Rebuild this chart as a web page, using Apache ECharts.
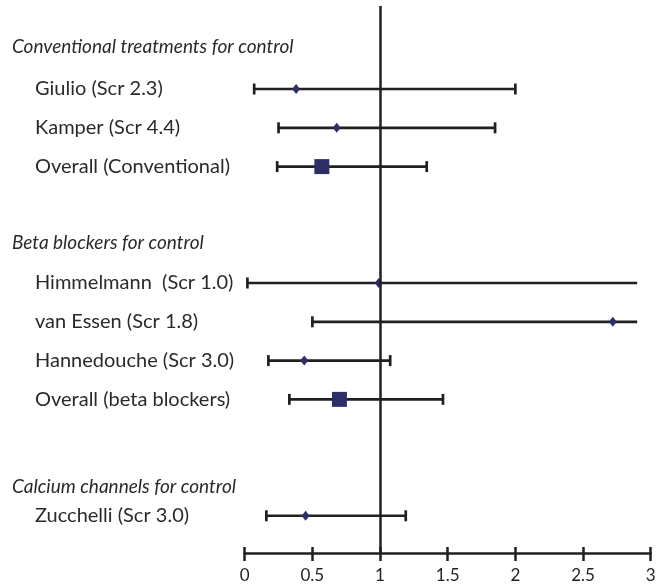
<!DOCTYPE html>
<html><head><meta charset="utf-8">
<script src="https://cdn.jsdelivr.net/npm/echarts@6/dist/echarts.min.js"></script>
<style>html,body{margin:0;padding:0;background:#fff}#c{width:666px;height:586px}</style>
</head><body><div id="c"></div>
<script>
const categories = ['Giulio (Scr 2.3)', 'Kamper (Scr 4.4)', 'Overall (Conventional)', 'Himmelmann  (Scr 1.0)', 'van Essen (Scr 1.8)', 'Hannedouche (Scr 3.0)', 'Overall (beta blockers)', 'Zucchelli (Scr 3.0)'];
const rowSlots = [0, 1, 2, 5, 6, 7, 8, 11];
const estimates = [0.38, 0.68, 0.57, 0.99, 2.72, 0.44, 0.70, 0.45];
const lower = [0.07, 0.25, 0.24, 0.02, 0.50, 0.175, 0.33, 0.16];
const upper = [2.0, 1.85, 1.345, 2.9, 2.9, 1.075, 1.465, 1.19];
const upperOpen = [false, false, false, true, true, false, false, false];
const isOverall = [false, false, true, false, false, false, true, false];
const groupHeaders = ['Conventional treatments for control', 'Beta blockers for control', 'Calcium channels for control'];
const headerSlots = [-1.08, 3.97, 10.26];
const xTicks = [0, 0.5, 1, 1.5, 2, 2.5, 3];

const INK = '#231f20';
const NAVY = '#2d2f68';
const FONT = 'Lato';

const chart = echarts.init(document.getElementById('c'), null, {renderer: 'canvas'});

const barData = categories.map((c, i) => [lower[i], upper[i], rowSlots[i], upperOpen[i] ? 1 : 0]);
const diamondData = [], squareData = [];
categories.forEach((c, i) => {
  (isOverall[i] ? squareData : diamondData).push([estimates[i], rowSlots[i]]);
});
const labelData = categories.map((c, i) => [rowSlots[i], i, 0]).concat(
  groupHeaders.map((h, i) => [headerSlots[i], i, 1]));

chart.setOption({
  animation: false,
  grid: {left: 244.7, right: 15.3, top: 6, bottom: 33},
  xAxis: [{
    type: 'value', min: 0, max: 3, interval: 0.5, position: 'bottom',
    axisLine: {show: true, onZero: false, lineStyle: {color: INK, width: 2.5}},
    axisTick: {show: true, length: 8, lineStyle: {color: INK, width: 2.5}},
    splitLine: {show: false},
    axisLabel: {color: INK, fontFamily: FONT, fontSize: 17, margin: 14,
      formatter: v => xTicks.indexOf(v) >= 0 ? String(v) : ''}
  }, {
    type: 'value', min: 0, max: 3, interval: 0.5, position: 'bottom', offset: 0,
    axisLine: {show: false, onZero: false},
    axisTick: {show: true, inside: true, length: 6, lineStyle: {color: INK, width: 2.5}},
    axisLabel: {show: false}, splitLine: {show: false}
  }],
  yAxis: {type: 'value', inverse: true, min: -2.14, max: 11.96, show: false},
  series: [{
    type: 'custom',
    data: barData,
    renderItem: function (params, api) {
      const a = api.coord([api.value(0), api.value(2)]);
      const b = api.coord([api.value(1), api.value(2)]);
      const open = api.value(3) === 1;
      const st = {stroke: INK, lineWidth: 2.7};
      const children = [
        {type: 'line', shape: {x1: a[0], y1: a[1], x2: b[0], y2: b[1]}, style: st},
        {type: 'line', shape: {x1: a[0], y1: a[1] - 5.5, x2: a[0], y2: a[1] + 5.5}, style: st}
      ];
      if (!open) children.push({type: 'line', shape: {x1: b[0], y1: b[1] - 5.5, x2: b[0], y2: b[1] + 5.5}, style: st});
      return {type: 'group', children: children};
    },
    markLine: {
      silent: true, symbol: 'none', animation: false,
      label: {show: false},
      lineStyle: {color: INK, width: 2.5, type: 'solid'},
      data: [{xAxis: 1}]
    },
    z: 2
  }, {
    type: 'scatter', data: diamondData, symbol: 'diamond', symbolSize: [8, 10],
    itemStyle: {color: NAVY, opacity: 1}, z: 3
  }, {
    type: 'scatter', data: squareData, symbol: 'rect', symbolSize: 15,
    itemStyle: {color: NAVY, opacity: 1}, z: 3
  }, {
    type: 'custom',
    data: labelData,
    clip: false,
    renderItem: function (params, api) {
      const y = api.coord([0, api.value(0)])[1];
      const header = api.value(2) === 1;
      const text = header ? groupHeaders[api.value(1)] : categories[api.value(1)];
      return {
        type: 'text',
        style: {
          x: header ? 12 : 35, y: y, text: text,
          fill: '#2a2a2a',
          font: (header ? 'italic 19px ' : '20px ') + FONT,
          verticalAlign: 'middle', align: 'left'
        }
      };
    },
    z: 4
  }]
});
</script></body></html>
